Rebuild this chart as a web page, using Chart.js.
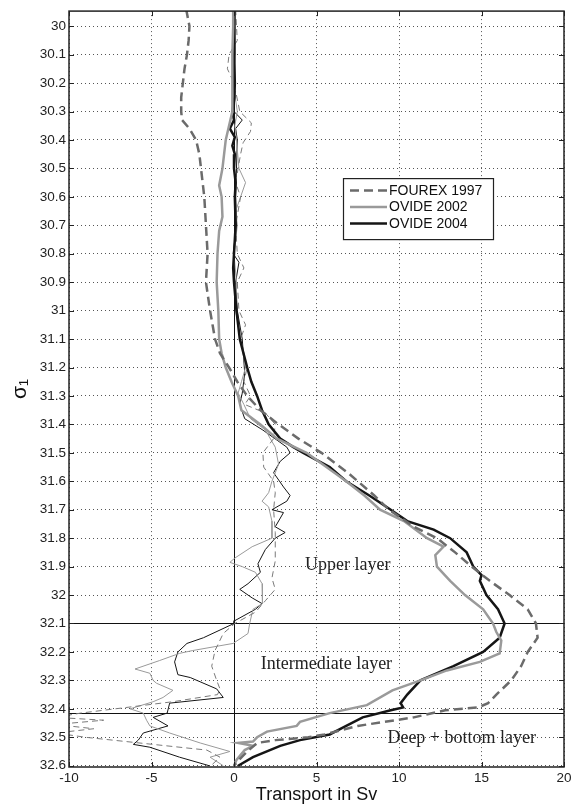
<!DOCTYPE html>
<html>
<head>
<meta charset="utf-8">
<script src="https://cdn.jsdelivr.net/npm/chart.js@4.4.0/dist/chart.umd.min.js"></script>
<style>
  html, body { margin: 0; padding: 0; background: #fff; }
</style>
</head>
<body>
<canvas id="sigmaChart" width="579" height="804"></canvas>
<script>
// [sigma_1, transport in Sv]
const fourex1997Cum = [
  [29.94, -2.9], [30.0, -2.7], [30.05, -2.75], [30.1, -2.85], [30.15, -3.0], [30.2, -3.1],
  [30.25, -3.2], [30.3, -3.2], [30.33, -3.15], [30.36, -2.7], [30.4, -2.3], [30.45, -2.1],
  [30.5, -2.0], [30.6, -1.8], [30.7, -1.7], [30.8, -1.6], [30.9, -1.7], [31.0, -1.45],
  [31.05, -1.3], [31.1, -1.15], [31.15, -0.85], [31.2, -0.3], [31.25, 0.2], [31.3, 0.8],
  [31.35, 1.6], [31.4, 2.7], [31.45, 3.9], [31.5, 5.3], [31.57, 6.9], [31.65, 8.5],
  [31.7, 9.4], [31.76, 10.9], [31.8, 12.3], [31.85, 13.4], [31.9, 14.4], [31.95, 15.5],
  [32.0, 16.7], [32.05, 17.8], [32.1, 18.3], [32.15, 18.4], [32.2, 17.8], [32.25, 17.4],
  [32.3, 16.8], [32.35, 15.9], [32.38, 15.4], [32.395, 14.8], [32.405, 12.8], [32.43, 10.9],
  [32.46, 7.5], [32.49, 5.5], [32.5, 4.5], [32.51, 2.5], [32.52, 1.4], [32.55, 0.8],
  [32.58, 0.3], [32.6, 0.0]
];
const ovide2002Cum = [
  [29.94, -0.05], [30.0, -0.05], [30.1, -0.1], [30.2, -0.1], [30.3, -0.1], [30.35, -0.3],
  [30.4, -0.5], [30.45, -0.6], [30.5, -0.7], [30.56, -0.9], [30.6, -0.75], [30.67, -0.7],
  [30.72, -0.9], [30.8, -1.0], [30.9, -1.05], [31.0, -0.95], [31.1, -0.9], [31.15, -0.75],
  [31.2, -0.5], [31.25, -0.15], [31.3, 0.25], [31.35, 0.45], [31.4, 1.6], [31.45, 2.6],
  [31.5, 4.4], [31.55, 5.6], [31.6, 6.8], [31.65, 7.9], [31.7, 8.85], [31.74, 10.3],
  [31.8, 11.7], [31.83, 12.7], [31.86, 12.2], [31.9, 12.3], [31.95, 13.1], [32.0, 14.0],
  [32.05, 15.1], [32.1, 15.7], [32.13, 15.9], [32.16, 16.2], [32.205, 16.1], [32.235, 14.9],
  [32.265, 12.9], [32.3, 11.3], [32.335, 9.6], [32.387, 8.05], [32.415, 5.8], [32.446, 4.0],
  [32.46, 3.8], [32.48, 2.0], [32.5, 1.4], [32.515, 1.15], [32.52, 0.25], [32.53, 1.15],
  [32.545, 0.65], [32.58, 0.15], [32.6, 0.0]
];
const ovide2004Cum = [
  [29.94, 0.0], [30.0, 0.05], [30.1, 0.0], [30.2, 0.05], [30.25, 0.0], [30.3, -0.1],
  [30.33, 0.0], [30.36, -0.25], [30.39, 0.05], [30.42, -0.1], [30.45, 0.05], [30.5, 0.0],
  [30.55, 0.1], [30.6, 0.05], [30.7, 0.1], [30.8, 0.0], [30.85, -0.05], [30.9, 0.0],
  [31.0, 0.15], [31.1, 0.35], [31.2, 0.8], [31.25, 1.05], [31.3, 1.4], [31.35, 1.7],
  [31.4, 2.1], [31.45, 2.8], [31.48, 3.6], [31.5, 4.2], [31.55, 5.8], [31.6, 6.8],
  [31.65, 8.2], [31.7, 9.5], [31.74, 10.5], [31.77, 12.1], [31.8, 13.1], [31.85, 14.1],
  [31.9, 14.5], [31.93, 15.0], [31.95, 14.9], [32.0, 15.3], [32.05, 16.0], [32.1, 16.4],
  [32.15, 16.1], [32.2, 15.1], [32.25, 13.3], [32.3, 11.3], [32.35, 10.5], [32.38, 10.1],
  [32.395, 10.25], [32.405, 9.5], [32.43, 7.8], [32.46, 6.8], [32.49, 5.8], [32.51, 4.0],
  [32.53, 2.8], [32.57, 1.15], [32.6, 0.25]
];

const fourex1997Bin = [
  [29.94, 0.1], [30.0, 0.15], [30.05, 0.2], [30.1, -0.3], [30.15, -0.4], [30.2, 0.0],
  [30.3, 0.35], [30.34, 1.05], [30.37, 1.0], [30.41, 0.55], [30.45, 0.4], [30.5, 0.25],
  [30.55, 0.1], [30.6, 0.4], [30.7, 0.1], [30.8, 0.2], [30.85, 0.6], [30.9, 0.2],
  [31.0, 0.3], [31.05, 0.7], [31.1, 0.4], [31.2, 0.8], [31.25, 0.6], [31.3, 1.0],
  [31.33, 0.65], [31.36, 1.9], [31.4, 2.5], [31.45, 2.4], [31.5, 1.75], [31.55, 1.8],
  [31.6, 2.4], [31.64, 2.5], [31.7, 2.4], [31.78, 2.5], [31.88, 2.5], [31.94, 2.3],
  [31.98, 2.5], [32.02, 1.9], [32.06, 1.3], [32.1, 0.05], [32.135, -0.65], [32.195, -1.15],
  [32.25, -1.35], [32.3, -1.05], [32.33, -0.85], [32.35, -1.0], [32.375, -3.7], [32.415, -9.3],
  [32.43, -10.8], [32.44, -7.9], [32.455, -10.8], [32.47, -8.5], [32.485, -10.8], [32.5, -9.0],
  [32.545, -1.65], [32.57, -0.85], [32.6, -1.4]
];
const ovide2002Bin = [
  [29.94, 0.0], [30.0, 0.05], [30.1, 0.05], [30.2, -0.05], [30.3, 0.2], [30.35, 0.05],
  [30.4, 0.15], [30.5, 0.3], [30.55, 0.7], [30.6, 0.4], [30.65, 0.1], [30.7, 0.2],
  [30.8, 0.0], [30.9, 0.15], [31.0, 0.1], [31.1, 0.4], [31.2, 0.7], [31.25, 0.45],
  [31.29, 0.25], [31.33, 0.6], [31.38, 1.0], [31.42, 1.9], [31.48, 2.5], [31.54, 2.7],
  [31.6, 2.3], [31.64, 2.1], [31.67, 1.7], [31.69, 2.1], [31.74, 2.3], [31.8, 2.3],
  [31.83, 1.1], [31.87, 0.05], [31.885, -0.25], [31.9, 0.5], [31.92, 1.3], [31.96, 1.7],
  [31.99, 1.75], [32.03, 1.7], [32.05, 1.15], [32.1, 0.95], [32.135, 0.85], [32.17, -0.05],
  [32.195, -2.5], [32.205, -3.3], [32.23, -4.5], [32.26, -6.0], [32.275, -5.1], [32.3, -4.9],
  [32.31, -4.7], [32.335, -3.7], [32.36, -4.3], [32.375, -4.9], [32.4, -6.3], [32.415, -5.5],
  [32.44, -5.3], [32.46, -5.1], [32.485, -3.9], [32.52, -2.05], [32.55, -0.25], [32.57, -1.45],
  [32.6, -0.65]
];
const ovide2004Bin = [
  [29.94, 0.05], [30.1, 0.0], [30.2, 0.1], [30.3, 0.0], [30.33, 0.5], [30.36, 0.1],
  [30.4, 0.2], [30.5, 0.15], [30.6, 0.1], [30.7, 0.15], [30.8, -0.05], [30.83, 0.3],
  [30.9, 0.1], [31.0, 0.2], [31.1, 0.5], [31.22, 0.65], [31.29, 0.5], [31.33, 0.35],
  [31.38, 0.65], [31.42, 1.75], [31.48, 3.2], [31.5, 3.4], [31.53, 2.8], [31.57, 2.4],
  [31.62, 3.0], [31.65, 3.4], [31.67, 3.2], [31.7, 2.3], [31.71, 3.0], [31.76, 2.5],
  [31.78, 3.1], [31.8, 2.5], [31.84, 1.9], [31.89, 1.45], [31.92, 1.6], [31.96, 0.85],
  [31.98, 0.35], [32.01, 1.1], [32.03, 1.7], [32.05, 1.3], [32.09, 0.05], [32.1, 0.0],
  [32.15, -1.85], [32.17, -2.85], [32.2, -3.4], [32.235, -3.6], [32.28, -3.4], [32.29, -2.65],
  [32.33, -1.05], [32.36, -0.65], [32.38, -3.9], [32.415, -4.05], [32.43, -4.9], [32.46, -4.0],
  [32.485, -5.5], [32.51, -5.8], [32.525, -6.1], [32.535, -5.1], [32.57, -3.3], [32.6, -1.5]
];

const layerBounds = [32.1, 32.415];
const xTicks = [-10, -5, 0, 5, 10, 15, 20];
const yTicks = [30, 30.1, 30.2, 30.3, 30.4, 30.5, 30.6, 30.7, 30.8, 30.9, 31, 31.1, 31.2, 31.3,
  31.4, 31.5, 31.6, 31.7, 31.8, 31.9, 32, 32.1, 32.2, 32.3, 32.4, 32.5, 32.6];
const layerNames = ["Upper layer", "Intermediate layer", "Deep + bottom layer"];
const seriesNames = ["FOUREX 1997", "OVIDE 2002", "OVIDE 2004"];

const sans = "'Liberation Sans', Arial, Helvetica, sans-serif";
const serif = "'Liberation Serif', 'Times New Roman', serif";

function pts(arr) {
  return arr.map(p => ({ x: p[1], y: p[0] }));
}

function line(label, arr, color, width, dash) {
  return {
    label: label,
    data: pts(arr),
    showLine: true,
    borderColor: color,
    backgroundColor: color,
    borderWidth: width,
    borderDash: dash,
    pointRadius: 0,
    tension: 0,
    fill: false,
    clip: 0
  };
}

const matlabFrame = {
  id: "matlabFrame",
  beforeDatasetsDraw(chart) {
    const { ctx, chartArea: a, scales } = chart;
    ctx.save();
    ctx.strokeStyle = "#111";
    ctx.lineWidth = 1;
    const x0 = Math.round(scales.x.getPixelForValue(0)) + 0.5;
    ctx.beginPath();
    ctx.moveTo(x0, a.top);
    ctx.lineTo(x0, a.bottom);
    layerBounds.forEach(v => {
      const y = Math.round(scales.y.getPixelForValue(v)) + 0.5;
      ctx.moveTo(a.left, y);
      ctx.lineTo(a.right, y);
    });
    ctx.stroke();
    ctx.restore();
  },
  afterDatasetsDraw(chart) {
    const { ctx, chartArea: a, scales } = chart;
    ctx.save();
    // box and inward ticks
    ctx.strokeStyle = "#222";
    ctx.lineWidth = 1.5;
    ctx.strokeRect(a.left, a.top, a.right - a.left, a.bottom - a.top);
    ctx.lineWidth = 1;
    ctx.beginPath();
    xTicks.forEach(v => {
      const x = Math.round(scales.x.getPixelForValue(v)) + 0.5;
      ctx.moveTo(x, a.bottom); ctx.lineTo(x, a.bottom - 5);
      ctx.moveTo(x, a.top); ctx.lineTo(x, a.top + 5);
    });
    yTicks.forEach(v => {
      const y = Math.round(scales.y.getPixelForValue(v)) + 0.5;
      ctx.moveTo(a.left, y); ctx.lineTo(a.left + 5, y);
      ctx.moveTo(a.right, y); ctx.lineTo(a.right - 5, y);
    });
    ctx.stroke();

    // layer labels
    const labelPos = [[6.9, 31.896], [5.6, 32.243], [13.8, 32.503]];
    ctx.fillStyle = "#222";
    ctx.font = "18px " + serif;
    ctx.textAlign = "center";
    ctx.textBaseline = "middle";
    layerNames.forEach((t, i) => {
      ctx.fillText(t, scales.x.getPixelForValue(labelPos[i][0]), scales.y.getPixelForValue(labelPos[i][1]));
    });

    // legend box
    const lx = a.right - 221, ly = a.top + 167, lw = 150, lh = 61;
    ctx.fillStyle = "#fff";
    ctx.fillRect(lx, ly, lw, lh);
    ctx.strokeStyle = "#222";
    ctx.lineWidth = 1.2;
    ctx.strokeRect(lx + 0.5, ly + 0.5, lw, lh);
    ctx.font = "14px " + sans;
    ctx.textAlign = "left";
    const rowY = [12, 28.5, 45];
    seriesNames.forEach((name, i) => {
      const ds = chart.data.datasets[i];
      const y = ly + rowY[i] + 0.5;
      ctx.strokeStyle = ds.borderColor;
      ctx.lineWidth = ds.borderWidth;
      ctx.setLineDash(ds.borderDash || []);
      ctx.beginPath();
      ctx.moveTo(lx + 7, y);
      ctx.lineTo(lx + 44, y);
      ctx.stroke();
      ctx.setLineDash([]);
      ctx.fillStyle = "#111";
      ctx.fillText(name, lx + 46, y + 0.5);
    });
    ctx.restore();
  }
};

const ctx = document.getElementById("sigmaChart").getContext("2d");

const sigmaChart = new Chart(ctx, {
  type: "scatter",
  data: {
    datasets: [
      line(seriesNames[0], fourex1997Cum, "#6b6b6b", 2.5, [9, 5]),
      line(seriesNames[1], ovide2002Cum, "#9a9a9a", 2.5, []),
      line(seriesNames[2], ovide2004Cum, "#151515", 2.5, []),
      line(seriesNames[0] + " bins", fourex1997Bin, "#7a7a7a", 1, [6, 4]),
      line(seriesNames[1] + " bins", ovide2002Bin, "#9a9a9a", 1, []),
      line(seriesNames[2] + " bins", ovide2004Bin, "#151515", 1, [])
    ]
  },
  options: {
    responsive: false,
    animation: false,
    events: [],
    layout: {
      padding: { left: 0, right: 15, top: 9, bottom: 0 }
    },
    plugins: {
      legend: { display: false },
      tooltip: { enabled: false }
    },
    scales: {
      x: {
        type: "linear",
        min: -10,
        max: 20,
        afterBuildTicks: s => { s.ticks = xTicks.map(v => ({ value: v })); },
        afterFit: s => { s.height = 37; },
        grid: { color: "#555", lineWidth: 1, drawTicks: false },
        border: { display: false, dash: [1, 3] },
        ticks: {
          padding: 3,
          color: "#222",
          font: { family: sans, size: 13.5 },
          callback: v => String(v)
        },
        title: {
          display: true,
          text: "Transport in Sv",
          color: "#111",
          font: { family: sans, size: 18, lineHeight: 1 },
          padding: { top: 0, bottom: 0 }
        }
      },
      y: {
        type: "linear",
        reverse: true,
        min: 29.947,
        max: 32.6045,
        afterBuildTicks: s => { s.ticks = yTicks.map(v => ({ value: v })); },
        afterFit: s => { s.width = 69; },
        grid: { color: "#555", lineWidth: 1, drawTicks: false },
        border: { display: false, dash: [1, 3] },
        ticks: {
          padding: 3,
          color: "#222",
          font: { family: sans, size: 13.5 },
          callback: v => String(parseFloat(Number(v).toFixed(1)))
        },
        title: {
          display: true,
          text: "σ₁",
          color: "#111",
          font: { family: sans, size: 21, lineHeight: 1.2 },
          padding: { top: 8, bottom: 0 }
        }
      }
    }
  },
  plugins: [matlabFrame]
});
</script>
</body>
</html>
